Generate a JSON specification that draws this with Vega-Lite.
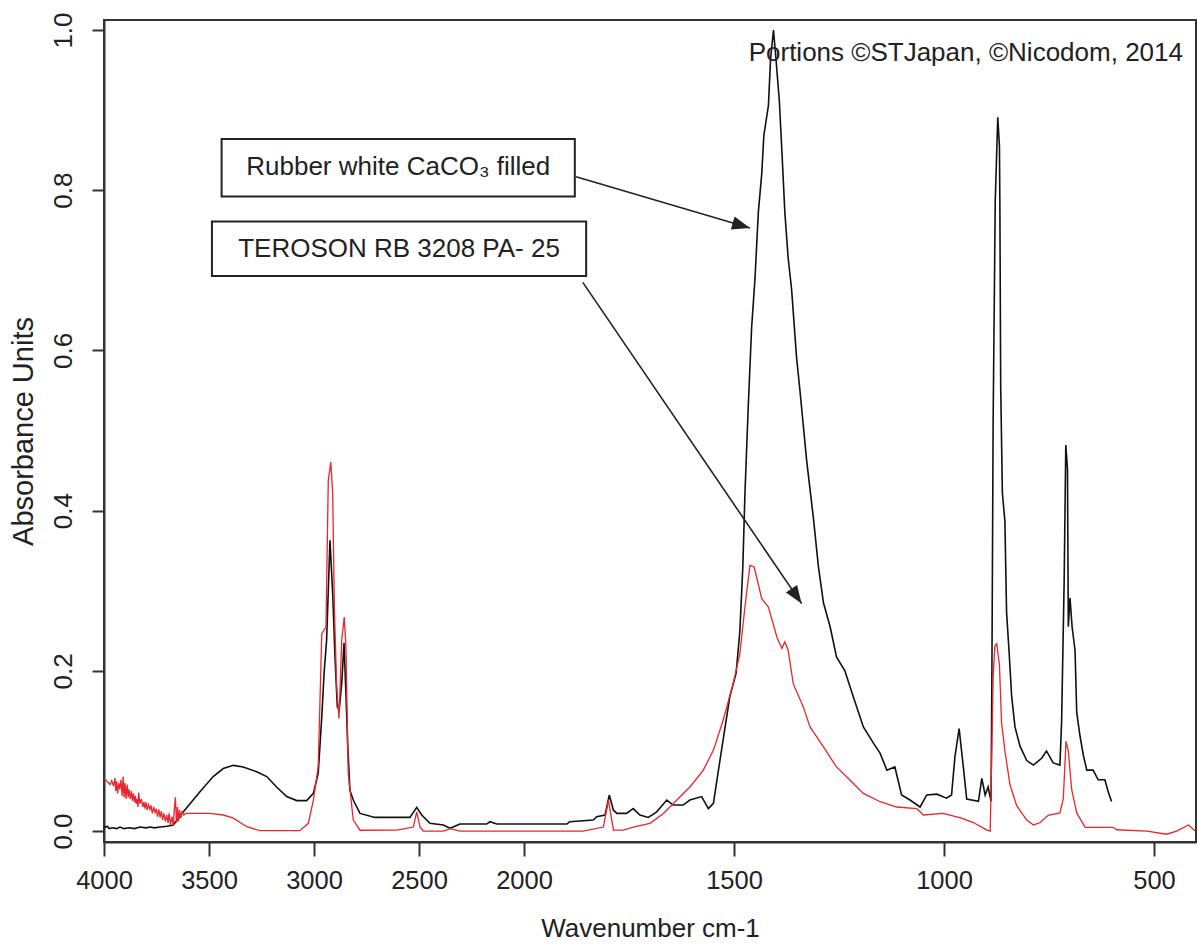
{
  "$schema": "https://vega.github.io/schema/vega-lite/v6.json",
  "width": 1092,
  "height": 822,
  "autosize": {"type": "none"},
  "padding": {"left": 104, "top": 20, "right": 1, "bottom": 103},
  "background": "white",
  "config": {
    "font": "Liberation Sans",
    "view": {"stroke": "#333", "strokeWidth": 2},
    "axis": {"grid": false, "domainColor": "#333", "domainWidth": 2, "tickColor": "#333", "tickWidth": 2, "labelColor": "#222", "titleColor": "#222", "labelFont": "Liberation Sans", "titleFont": "Liberation Sans", "titleFontWeight": "normal"}
  },
  "datasets": {
    "black": [
      {"wn":4000,"a":0.004},{"wn":3985,"a":0.006},{"wn":3975,"a":0.003},{"wn":3960,"a":0.004},{"wn":3940,"a":0.003},{"wn":3924,"a":0.005},{"wn":3905,"a":0.003},{"wn":3880,"a":0.004},{"wn":3855,"a":0.003},{"wn":3829,"a":0.005},{"wn":3800,"a":0.004},{"wn":3780,"a":0.005},{"wn":3760,"a":0.004},{"wn":3733,"a":0.005},{"wn":3700,"a":0.006},{"wn":3670,"a":0.0075},{"wn":3622,"a":0.024},{"wn":3543,"a":0.049},{"wn":3480,"a":0.068},{"wn":3432,"a":0.078},{"wn":3384,"a":0.082},{"wn":3337,"a":0.080},{"wn":3273,"a":0.074},{"wn":3225,"a":0.068},{"wn":3178,"a":0.055},{"wn":3130,"a":0.043},{"wn":3082,"a":0.038},{"wn":3035,"a":0.038},{"wn":3003,"a":0.047},{"wn":2980,"a":0.072},{"wn":2963,"a":0.1425},{"wn":2952,"a":0.197},{"wn":2940,"a":0.238},{"wn":2932,"a":0.30},{"wn":2924,"a":0.363},{"wn":2911,"a":0.297},{"wn":2900,"a":0.217},{"wn":2889,"a":0.155},{"wn":2880,"a":0.151},{"wn":2868,"a":0.184},{"wn":2857,"a":0.235},{"wn":2848,"a":0.172},{"wn":2840,"a":0.11},{"wn":2829,"a":0.051},{"wn":2813,"a":0.0387},{"wn":2781,"a":0.022},{"wn":2710,"a":0.017},{"wn":2543,"a":0.017},{"wn":2511,"a":0.0295},{"wn":2487,"a":0.020},{"wn":2448,"a":0.0096},{"wn":2384,"a":0.0075},{"wn":2352,"a":0.0034},{"wn":2305,"a":0.0087},{"wn":2178,"a":0.0087},{"wn":2162,"a":0.0116},{"wn":2130,"a":0.0087},{"wn":1898,"a":0.0087},{"wn":1891,"a":0.0116},{"wn":1835,"a":0.0137},{"wn":1827,"a":0.0178},{"wn":1807,"a":0.020},{"wn":1797,"a":0.0449},{"wn":1787,"a":0.026},{"wn":1779,"a":0.022},{"wn":1756,"a":0.022},{"wn":1740,"a":0.028},{"wn":1724,"a":0.020},{"wn":1704,"a":0.017},{"wn":1684,"a":0.024},{"wn":1660,"a":0.0387},{"wn":1645,"a":0.0324},{"wn":1621,"a":0.0324},{"wn":1605,"a":0.0387},{"wn":1577,"a":0.043},{"wn":1561,"a":0.028},{"wn":1549,"a":0.0345},{"wn":1537,"a":0.076},{"wn":1526,"a":0.1135},{"wn":1510,"a":0.1675},{"wn":1495,"a":0.197},{"wn":1486,"a":0.25},{"wn":1479,"a":0.33},{"wn":1474,"a":0.42},{"wn":1466,"a":0.531},{"wn":1458,"a":0.629},{"wn":1450,"a":0.69},{"wn":1442,"a":0.773},{"wn":1434,"a":0.82},{"wn":1429,"a":0.868},{"wn":1418,"a":0.906},{"wn":1413,"a":0.9635},{"wn":1406,"a":1.0},{"wn":1400,"a":0.9635},{"wn":1392,"a":0.911},{"wn":1386,"a":0.849},{"wn":1379,"a":0.773},{"wn":1371,"a":0.715},{"wn":1363,"a":0.677},{"wn":1351,"a":0.591},{"wn":1343,"a":0.55},{"wn":1327,"a":0.4625},{"wn":1311,"a":0.391},{"wn":1299,"a":0.33},{"wn":1287,"a":0.285},{"wn":1271,"a":0.2547},{"wn":1256,"a":0.2173},{"wn":1236,"a":0.2},{"wn":1216,"a":0.1675},{"wn":1192,"a":0.130},{"wn":1168,"a":0.1097},{"wn":1152,"a":0.0969},{"wn":1136,"a":0.076},{"wn":1117,"a":0.080},{"wn":1101,"a":0.045},{"wn":1081,"a":0.0387},{"wn":1057,"a":0.030},{"wn":1041,"a":0.045},{"wn":1017,"a":0.046},{"wn":994,"a":0.041},{"wn":982,"a":0.045},{"wn":974,"a":0.0926},{"wn":964,"a":0.128},{"wn":954,"a":0.080},{"wn":946,"a":0.040},{"wn":918,"a":0.037},{"wn":910,"a":0.0657},{"wn":902,"a":0.045},{"wn":895,"a":0.055},{"wn":888,"a":0.037},{"wn":886,"a":0.19},{"wn":883,"a":0.512},{"wn":878,"a":0.786},{"wn":872,"a":0.891},{"wn":868,"a":0.855},{"wn":867,"a":0.786},{"wn":865,"a":0.554},{"wn":861,"a":0.4223},{"wn":855,"a":0.3865},{"wn":851,"a":0.273},{"wn":845,"a":0.2235},{"wn":839,"a":0.1687},{"wn":831,"a":0.13},{"wn":819,"a":0.106},{"wn":803,"a":0.088},{"wn":787,"a":0.0823},{"wn":767,"a":0.0911},{"wn":756,"a":0.100},{"wn":740,"a":0.085},{"wn":724,"a":0.0823},{"wn":720,"a":0.1359},{"wn":714,"a":0.309},{"wn":710,"a":0.482},{"wn":706,"a":0.452},{"wn":704,"a":0.255},{"wn":700,"a":0.291},{"wn":695,"a":0.255},{"wn":688,"a":0.2254},{"wn":684,"a":0.148},{"wn":676,"a":0.118},{"wn":668,"a":0.094},{"wn":660,"a":0.076},{"wn":645,"a":0.076},{"wn":633,"a":0.064},{"wn":617,"a":0.064},{"wn":609,"a":0.049},{"wn":601,"a":0.037}
    ],
    "red": [
      {"wn":4000,"a":0.066},{"wn":3992,"a":0.064},{"wn":3986,"a":0.062},{"wn":3978,"a":0.060},{"wn":3971,"a":0.058},{"wn":3963,"a":0.063},{"wn":3955,"a":0.056},{"wn":3948,"a":0.066},{"wn":3944,"a":0.050},{"wn":3940,"a":0.062},{"wn":3935,"a":0.047},{"wn":3930,"a":0.060},{"wn":3925,"a":0.052},{"wn":3919,"a":0.064},{"wn":3914,"a":0.044},{"wn":3909,"a":0.068},{"wn":3905,"a":0.042},{"wn":3900,"a":0.060},{"wn":3895,"a":0.040},{"wn":3890,"a":0.058},{"wn":3885,"a":0.042},{"wn":3881,"a":0.052},{"wn":3875,"a":0.040},{"wn":3870,"a":0.050},{"wn":3865,"a":0.038},{"wn":3860,"a":0.047},{"wn":3855,"a":0.036},{"wn":3851,"a":0.044},{"wn":3847,"a":0.034},{"wn":3843,"a":0.040},{"wn":3838,"a":0.030},{"wn":3835,"a":0.048},{"wn":3829,"a":0.034},{"wn":3822,"a":0.040},{"wn":3815,"a":0.030},{"wn":3810,"a":0.036},{"wn":3805,"a":0.028},{"wn":3800,"a":0.036},{"wn":3795,"a":0.026},{"wn":3788,"a":0.033},{"wn":3781,"a":0.027},{"wn":3776,"a":0.032},{"wn":3770,"a":0.022},{"wn":3763,"a":0.030},{"wn":3757,"a":0.023},{"wn":3751,"a":0.028},{"wn":3745,"a":0.018},{"wn":3739,"a":0.027},{"wn":3733,"a":0.017},{"wn":3727,"a":0.025},{"wn":3721,"a":0.014},{"wn":3715,"a":0.022},{"wn":3708,"a":0.012},{"wn":3701,"a":0.020},{"wn":3695,"a":0.010},{"wn":3690,"a":0.022},{"wn":3684,"a":0.008},{"wn":3676,"a":0.018},{"wn":3670,"a":0.006},{"wn":3665,"a":0.028},{"wn":3660,"a":0.042},{"wn":3655,"a":0.010},{"wn":3650,"a":0.030},{"wn":3645,"a":0.012},{"wn":3640,"a":0.026},{"wn":3634,"a":0.016},{"wn":3629,"a":0.024},{"wn":3620,"a":0.020},{"wn":3610,"a":0.022},{"wn":3575,"a":0.022},{"wn":3495,"a":0.022},{"wn":3432,"a":0.020},{"wn":3384,"a":0.016},{"wn":3320,"a":0.0054},{"wn":3257,"a":0.0004},{"wn":3067,"a":0.0004},{"wn":3027,"a":0.0096},{"wn":3003,"a":0.0387},{"wn":2980,"a":0.080},{"wn":2963,"a":0.2465},{"wn":2943,"a":0.2547},{"wn":2932,"a":0.4377},{"wn":2920,"a":0.4605},{"wn":2911,"a":0.421},{"wn":2903,"a":0.2797},{"wn":2892,"a":0.18},{"wn":2881,"a":0.1405},{"wn":2868,"a":0.238},{"wn":2856,"a":0.267},{"wn":2848,"a":0.23},{"wn":2837,"a":0.072},{"wn":2813,"a":0.0137},{"wn":2781,"a":0.001},{"wn":2606,"a":0.0012},{"wn":2527,"a":0.005},{"wn":2511,"a":0.024},{"wn":2495,"a":0.005},{"wn":2480,"a":0.0},{"wn":2384,"a":0.0},{"wn":2352,"a":0.003},{"wn":2305,"a":0.0},{"wn":2000,"a":0.0},{"wn":1859,"a":0.0},{"wn":1811,"a":0.005},{"wn":1799,"a":0.0387},{"wn":1787,"a":0.0012},{"wn":1764,"a":0.0012},{"wn":1740,"a":0.005},{"wn":1700,"a":0.0096},{"wn":1668,"a":0.022},{"wn":1636,"a":0.0387},{"wn":1605,"a":0.055},{"wn":1573,"a":0.076},{"wn":1549,"a":0.101},{"wn":1526,"a":0.138},{"wn":1502,"a":0.184},{"wn":1486,"a":0.2216},{"wn":1474,"a":0.2797},{"wn":1462,"a":0.3317},{"wn":1452,"a":0.3296},{"wn":1434,"a":0.290},{"wn":1418,"a":0.2797},{"wn":1398,"a":0.2423},{"wn":1386,"a":0.228},{"wn":1379,"a":0.236},{"wn":1371,"a":0.2257},{"wn":1359,"a":0.184},{"wn":1335,"a":0.155},{"wn":1319,"a":0.130},{"wn":1287,"a":0.105},{"wn":1256,"a":0.080},{"wn":1224,"a":0.0636},{"wn":1192,"a":0.047},{"wn":1152,"a":0.0366},{"wn":1113,"a":0.030},{"wn":1065,"a":0.028},{"wn":1049,"a":0.020},{"wn":1002,"a":0.022},{"wn":970,"a":0.0178},{"wn":962,"a":0.0166},{"wn":930,"a":0.0106},{"wn":898,"a":0.0012},{"wn":890,"a":0.0},{"wn":886.5,"a":0.091},{"wn":883,"a":0.19},{"wn":879,"a":0.231},{"wn":874.5,"a":0.234},{"wn":868,"a":0.2075},{"wn":863,"a":0.136},{"wn":855,"a":0.100},{"wn":843,"a":0.058},{"wn":827,"a":0.0316},{"wn":803,"a":0.0137},{"wn":787,"a":0.0076},{"wn":771,"a":0.0106},{"wn":752,"a":0.0196},{"wn":724,"a":0.0226},{"wn":716,"a":0.040},{"wn":709.5,"a":0.112},{"wn":704,"a":0.100},{"wn":696,"a":0.052},{"wn":684,"a":0.0226},{"wn":664,"a":0.0046},{"wn":597,"a":0.0046},{"wn":589,"a":0.0016},{"wn":517,"a":0.0},{"wn":470,"a":-0.004},{"wn":446,"a":0.0},{"wn":418,"a":0.0076},{"wn":402,"a":0.0}
    ],
    "boxes": [
      {"wn":3440,"wn2":1879,"a":0.864,"a2":0.792},
      {"wn":3486,"wn2":1852,"a":0.761,"a2":0.693}
    ],
    "notes": [
      {"wn":2599,"a":0.829,"label":"Rubber white CaCO₃ filled"},
      {"wn":2595,"a":0.727,"label":"TEROSON RB 3208 PA- 25"}
    ],
    "arrows": [
      {"id":1,"wn":1876,"a":0.8167,"wn2":1462,"a2":0.7527},
      {"id":2,"wn":1860,"a":0.6849,"wn2":1339,"a2":0.2839}
    ],
    "heads": [
      {"id":1,"wn":1462,"a":0.7527},
      {"id":2,"wn":1339,"a":0.2839}
    ],
    "credit": [
      {"wn":431,"a":0.971,"label":"Portions ©STJapan, ©Nicodom, 2014"}
    ]
  },
  "encoding": {
    "x": {
      "field": "wn", "type": "quantitative",
      "scale": {"domain": [4000, 2000, 400], "range": [0, 420, 1092], "nice": false, "zero": false},
      "axis": {"values": [4000, 3500, 3000, 2500, 2000, 1500, 1000, 500], "format": "d", "title": "Wavenumber cm-1", "labelFontSize": 25.5, "titleFontSize": 26, "tickSize": 14, "labelPadding": 12, "titlePadding": 22, "labelFlush": false, "labelOverlap": false}
    },
    "y": {
      "field": "a", "type": "quantitative",
      "scale": {"domain": [-0.0137, 1.0125], "nice": false, "zero": false},
      "axis": {"values": [0, 0.2, 0.4, 0.6, 0.8, 1.0], "format": ".1f", "title": "Absorbance Units", "labelAngle": -90, "labelFontSize": 26, "titleFontSize": 29, "tickSize": 12, "labelPadding": 16, "titlePadding": 12, "labelFlush": false, "labelOverlap": false}
    }
  },
  "layer": [
    {"data": {"name": "black"}, "mark": {"type": "line", "color": "#111111", "strokeWidth": 1.6, "clip": true}, "encoding": {}},
    {"data": {"name": "red"}, "mark": {"type": "line", "color": "#e8262b", "strokeWidth": 1.3, "clip": true}, "encoding": {}},
    {"data": {"name": "boxes"}, "mark": {"type": "rect", "fill": "white", "stroke": "#222222", "strokeWidth": 2}, "encoding": {"x2": {"field": "wn2"}, "y2": {"field": "a2"}}},
    {"data": {"name": "notes"}, "mark": {"type": "text", "fontSize": 26, "align": "center", "baseline": "middle", "color": "#222222", "font": "Liberation Sans"}, "encoding": {"text": {"field": "label", "type": "nominal"}}},
    {"data": {"name": "arrows"}, "mark": {"type": "rule", "color": "#222222", "strokeWidth": 1.6}, "encoding": {"x2": {"field": "wn2"}, "y2": {"field": "a2"}}},
    {"data": {"name": "heads"}, "transform": [{"filter": "datum.id == 1"}], "mark": {"type": "point", "shape": "M0,0L-2,-0.75L-2,0.75Z", "filled": true, "size": 324, "angle": 16.4, "color": "#222222", "opacity": 1}},
    {"data": {"name": "heads"}, "transform": [{"filter": "datum.id == 2"}], "mark": {"type": "point", "shape": "M0,0L-2,-0.75L-2,0.75Z", "filled": true, "size": 324, "angle": 55.7, "color": "#222222", "opacity": 1}},
    {"data": {"name": "credit"}, "mark": {"type": "text", "fontSize": 26, "align": "right", "baseline": "middle", "color": "#222222", "font": "Liberation Sans"}, "encoding": {"text": {"field": "label", "type": "nominal"}}}
  ]
}
